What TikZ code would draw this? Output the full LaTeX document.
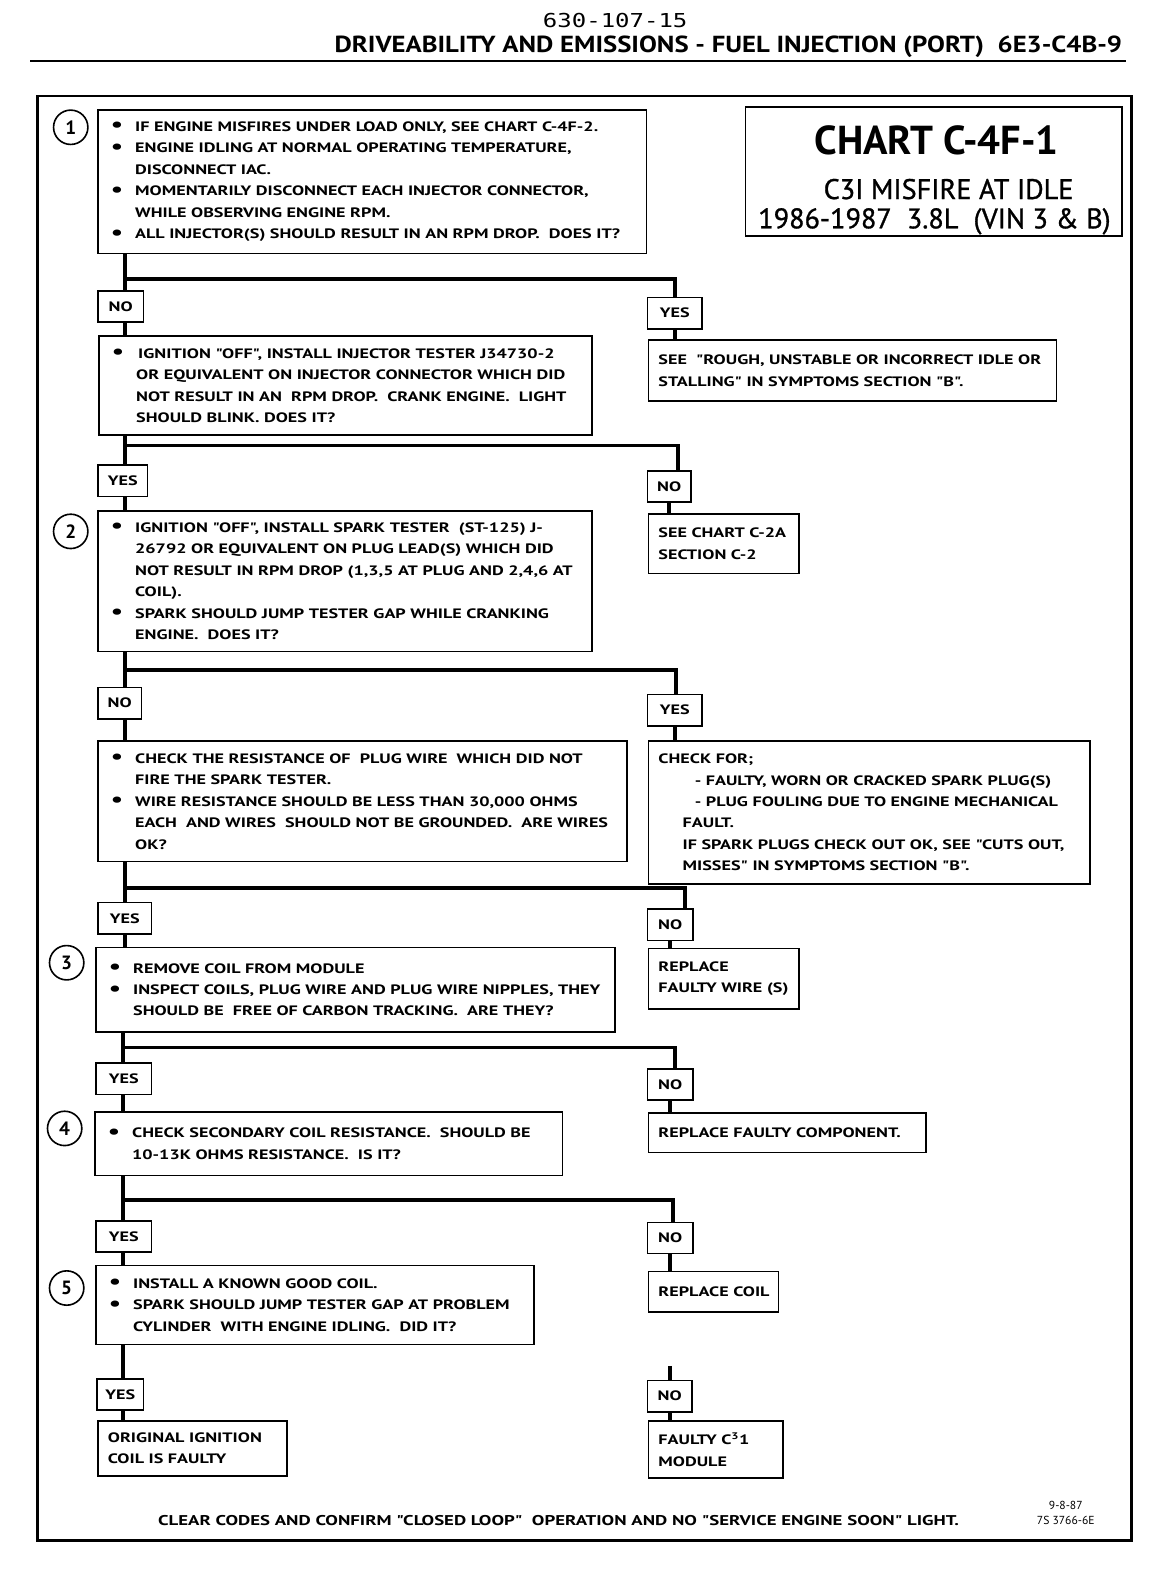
\documentclass[tikz,border=0pt]{standalone}
\usepackage{fontspec}
\setmainfont{PT Sans}
\newfontfamily\boxfam[FakeStretch=1.33]{PT Sans}
\newfontfamily\hdfam[FakeStretch=1.15]{PT Sans}
\newfontfamily\medfam[FakeBold=1.0]{PT Sans}
\newfontfamily\monof[FakeStretch=1.25]{DejaVu Sans Mono}
\newcommand\bxf{\boxfam\bfseries\fontsize{13.5}{21.2}\selectfont}
\newcommand\bulA{\makebox[27pt][l]{\hspace{3pt}\raisebox{-0.5pt}{\scalebox{1.5}{\textbullet}}}}
\newcommand\contA{\hspace*{27pt}}
\newcommand\Lb[1]{\mbox{\bulA #1}}
\newcommand\Lc[1]{\mbox{\contA #1}}
\newcommand\Lp[1]{\mbox{#1}}
\begin{document}
\begin{tikzpicture}[x=1pt,y=-1pt,
  box/.style={draw, line width=1.6pt, anchor=north west, inner xsep=10pt, inner ysep=0pt, align=left, font=\bxf},
  lbl/.style={draw, line width=1.6pt, minimum height=31pt, inner sep=0pt, font=\bxf},
  conn/.style={line width=3.6pt},
  num/.style={circle, draw, line width=1.6pt, minimum size=34pt, inner sep=0pt, font=\bfseries\fontsize{19}{19}\selectfont}]
\useasboundingbox (0,0) rectangle (1140,1568);
\fill[white] (0,0) rectangle (1140,1568);

% header
\node[font=\monof\fontsize{19}{19}\selectfont] (pg) at (609,20) {630-107-15};
\node[font=\hdfam\bfseries\fontsize{23}{23}\selectfont] (hd) at (721,46) {DRIVEABILITY AND EMISSIONS - FUEL INJECTION (PORT)\ \ 6E3-C4B-9};
\draw[line width=2pt] (30,60) -- (1115,60);
% frame
\draw[line width=2.4pt] (37,95) rectangle (1120,1525);

% title box
\node[draw, line width=1.6pt, anchor=north west, minimum width=373pt, minimum height=128pt, inner sep=0pt] (tbox) at (737,105) {};
\node[anchor=base, font=\bfseries\fontsize{40}{40}\selectfont] (ttl1) at (927,153) {CHART C-4F-1};
\node[anchor=base, font=\medfam\fontsize{28}{28}\selectfont] (ttl2) at (939,197) {C3I MISFIRE AT IDLE};
\node[anchor=base, font=\medfam\fontsize{28}{28}\selectfont] (ttl3) at (925,226) {1986-1987\ \ 3.8L\ \ (VIN 3 \& B)};

% step numbers
\node[num] (c1) at (70,126) {1};
\node[num] (c2) at (70,526) {2};
\node[num] (c3) at (66,953) {3};
\node[num] (c4) at (64,1117) {4};
\node[num] (c5) at (66,1275) {5};

% main boxes
\node[box, minimum width=543pt, minimum height=142pt, text width=523pt] (b1) at (96,108) {%
\Lb{IF ENGINE MISFIRES UNDER LOAD ONLY, SEE CHART C-4F-2.}\\
\Lb{ENGINE IDLING AT NORMAL OPERATING TEMPERATURE,}\\
\Lc{DISCONNECT IAC.}\\
\Lb{MOMENTARILY DISCONNECT EACH INJECTOR CONNECTOR,}\\
\Lc{WHILE OBSERVING ENGINE RPM.}\\
\Lb{ALL INJECTOR(S) SHOULD RESULT IN AN RPM DROP. \ DOES IT?}};

\node[box, minimum width=488pt, minimum height=98pt, text width=468pt] (b2) at (97,332) {%
\Lb{\hspace{2pt}IGNITION "OFF", INSTALL INJECTOR TESTER J34730-2}\\
\Lc{OR EQUIVALENT ON INJECTOR CONNECTOR WHICH DID}\\
\Lc{NOT RESULT IN AN \ RPM DROP. \ CRANK ENGINE. \ LIGHT}\\
\Lc{SHOULD BLINK. DOES IT?}};

\node[box, minimum width=489pt, minimum height=139pt, text width=469pt] (b3) at (96,505) {%
\Lb{IGNITION "OFF", INSTALL SPARK TESTER \ (ST-125) J-}\\
\Lc{26792 OR EQUIVALENT ON PLUG LEAD(S) WHICH DID}\\
\Lc{NOT RESULT IN RPM DROP (1,3,5 AT PLUG AND 2,4,6 AT}\\
\Lc{COIL).}\\
\Lb{SPARK SHOULD JUMP TESTER GAP WHILE CRANKING}\\
\Lc{ENGINE. \ DOES IT?}};

\node[box, minimum width=524pt, minimum height=119pt, text width=504pt] (b4) at (96,733) {%
\Lb{CHECK THE RESISTANCE OF \ PLUG WIRE \ WHICH DID NOT}\\
\Lc{FIRE THE SPARK TESTER.}\\
\Lb{WIRE RESISTANCE SHOULD BE LESS THAN 30,000 OHMS}\\
\Lc{EACH \ AND WIRES \ SHOULD NOT BE GROUNDED. \ ARE WIRES}\\
\Lc{OK?}};

\node[box, minimum width=514pt, minimum height=84pt, text width=494pt] (b5) at (94,937) {%
\Lb{REMOVE COIL FROM MODULE}\\
\Lb{INSPECT COILS, PLUG WIRE AND PLUG WIRE NIPPLES, THEY}\\
\Lc{SHOULD BE \ FREE OF CARBON TRACKING. \ ARE THEY?}};

\node[box, minimum width=463pt, minimum height=63pt, text width=443pt] (b6) at (93,1100) {%
\Lb{CHECK SECONDARY COIL RESISTANCE. \ SHOULD BE}\\
\Lc{10-13K OHMS RESISTANCE. \ IS IT?}};

\node[box, minimum width=434pt, minimum height=78pt, text width=414pt] (b7) at (94,1252) {%
\Lb{INSTALL A KNOWN GOOD COIL.}\\
\Lb{SPARK SHOULD JUMP TESTER GAP AT PROBLEM}\\
\Lc{CYLINDER \ WITH ENGINE IDLING. \ DID IT?}};

% result boxes
\node[box, minimum width=404pt, minimum height=60pt, text width=384pt] (r1) at (641,336) {%
\Lp{SEE \ "ROUGH, UNSTABLE OR INCORRECT IDLE OR}\\
\Lp{STALLING" IN SYMPTOMS SECTION "B".}};

\node[box, minimum width=149pt, minimum height=59pt, text width=129pt] (r2) at (641,508) {%
\Lp{SEE CHART C-2A}\\
\Lp{SECTION C-2}};

\node[box, minimum width=437pt, minimum height=141pt, text width=417pt] (r3) at (641,733) {%
\Lp{CHECK FOR;}\\
\Lp{\hspace*{36pt}- FAULTY, WORN OR CRACKED SPARK PLUG(S)}\\
\Lp{\hspace*{36pt}- PLUG FOULING DUE TO ENGINE MECHANICAL}\\
\Lp{\hspace*{24pt}FAULT.}\\
\Lp{\hspace*{24pt}IF SPARK PLUGS CHECK OUT OK, SEE "CUTS OUT,}\\
\Lp{\hspace*{24pt}MISSES" IN SYMPTOMS SECTION "B".}};

\node[box, minimum width=149pt, minimum height=60pt, text width=129pt] (r4) at (641,938) {%
\Lp{REPLACE}\\
\Lp{FAULTY WIRE (S)}};

\node[box, minimum width=275pt, minimum height=39pt, text width=255pt] (r5) at (641,1101) {%
\Lp{REPLACE FAULTY COMPONENT.}};

\node[box, minimum width=129pt, minimum height=40pt, text width=109pt] (r6) at (641,1258) {%
\Lp{REPLACE COIL}};

\node[box, minimum width=187pt, minimum height=54pt, text width=167pt] (r7) at (96,1406) {%
\Lp{ORIGINAL IGNITION}\\
\Lp{COIL IS FAULTY}};

\node[box, minimum width=133pt, minimum height=56pt, text width=113pt] (r8) at (641,1406) {%
\Lp{FAULTY C\textsuperscript{3}1}\\
\Lp{MODULE}};

% yes/no labels
\node[lbl, minimum width=45pt] (no1) at (119.5,303.5) {NO};
\node[lbl, minimum width=54pt] (yes1) at (668,310) {YES};
\node[lbl, minimum width=49pt] (yes2) at (121.5,476) {YES};
\node[lbl, minimum width=43pt] (no2) at (662.5,481.5) {NO};
\node[lbl, minimum width=43pt] (no3) at (118.5,696) {NO};
\node[lbl, minimum width=54pt] (yes3) at (668,703) {YES};
\node[lbl, minimum width=53pt] (yes4) at (123.5,909) {YES};
\node[lbl, minimum width=45pt] (no4) at (663.5,915.5) {NO};
\node[lbl, minimum width=55pt] (yes5) at (122.5,1068) {YES};
\node[lbl, minimum width=45pt] (no5) at (663.5,1073.5) {NO};
\node[lbl, minimum width=55pt] (yes6) at (122.5,1224) {YES};
\node[lbl, minimum width=45pt] (no6) at (663.5,1225.5) {NO};
\node[lbl, minimum width=46pt] (yes7) at (119,1380.5) {YES};
\node[lbl, minimum width=44pt] (no7) at (663,1382) {NO};

% branch coordinates
\coordinate (T1) at (124,276);  \coordinate (R1) at (668,276);
\coordinate (T2) at (124,441);  \coordinate (R2) at (671,441);
\coordinate (T3) at (124,663);  \coordinate (R3) at (669,663);
\coordinate (T4) at (124,879);  \coordinate (R4) at (678,879);
\coordinate (T5) at (122,1037); \coordinate (R5) at (668,1037);
\coordinate (T6) at (122,1188); \coordinate (R6) at (666,1188);
\coordinate (T7) at (122,1350); \coordinate (S7) at (663,1352);

% connectors
\draw[conn] (b1.south -| T1) -- (no1.north -| T1);
\draw[conn] (T1) -- (R1) -- (yes1.north -| R1);
\draw[conn] (yes1.south) -- (yes1.south |- r1.north);
\draw[conn] (no1.south -| T1) -- (b2.north -| T1);

\draw[conn] (b2.south -| T2) -- (yes2.north -| T2);
\draw[conn] (T2) -- (R2) -- (no2.north -| R2);
\draw[conn] (no2.south) -- (no2.south |- r2.north);
\draw[conn] (yes2.south -| T2) -- (b3.north -| T2);

\draw[conn] (b3.south -| T3) -- (no3.north -| T3);
\draw[conn] (T3) -- (R3) -- (yes3.north -| R3);
\draw[conn] (yes3.south) -- (yes3.south |- r3.north);
\draw[conn] (no3.south -| T3) -- (b4.north -| T3);

\draw[conn] (b4.south -| T4) -- (yes4.north -| T4);
\draw[conn] (T4) -- (R4) -- (no4.north -| R4);
\draw[conn] (no4.south) -- (no4.south |- r4.north);
\draw[conn] (yes4.south -| T4) -- (b5.north -| T4);

\draw[conn] (b5.south -| T5) -- (yes5.north -| T5);
\draw[conn] (T5) -- (R5) -- (no5.north -| R5);
\draw[conn] (no5.south) -- (no5.south |- r5.north);
\draw[conn] (yes5.south -| T5) -- (b6.north -| T5);

\draw[conn] (b6.south -| T6) -- (yes6.north -| T6);
\draw[conn] (T6) -- (R6) -- (no6.north -| R6);
\draw[conn] (no6.south) -- (no6.south |- r6.north);
\draw[conn] (yes6.south -| T6) -- (b7.north -| T6);

\draw[conn] (b7.south -| T7) -- (yes7.north -| T7);
\draw[conn] (S7) -- (no7.north -| S7);
\draw[conn] (yes7.south -| T7) -- (r7.north -| T7);
\draw[conn] (no7.south) -- (no7.south |- r8.north);

% footer
\node[font=\boxfam\bfseries\fontsize{14}{15}\selectfont] (ft) at (553,1505) {CLEAR CODES AND CONFIRM "CLOSED LOOP" \ OPERATION AND NO "SERVICE ENGINE SOON" LIGHT.};
\node[font=\fontsize{11.5}{11.5}\selectfont] (dt) at (1055,1490) {9-8-87};
\node[font=\fontsize{11.5}{11.5}\selectfont] (cd) at (1055,1505) {7S 3766-6E};
\end{tikzpicture}
\end{document}
